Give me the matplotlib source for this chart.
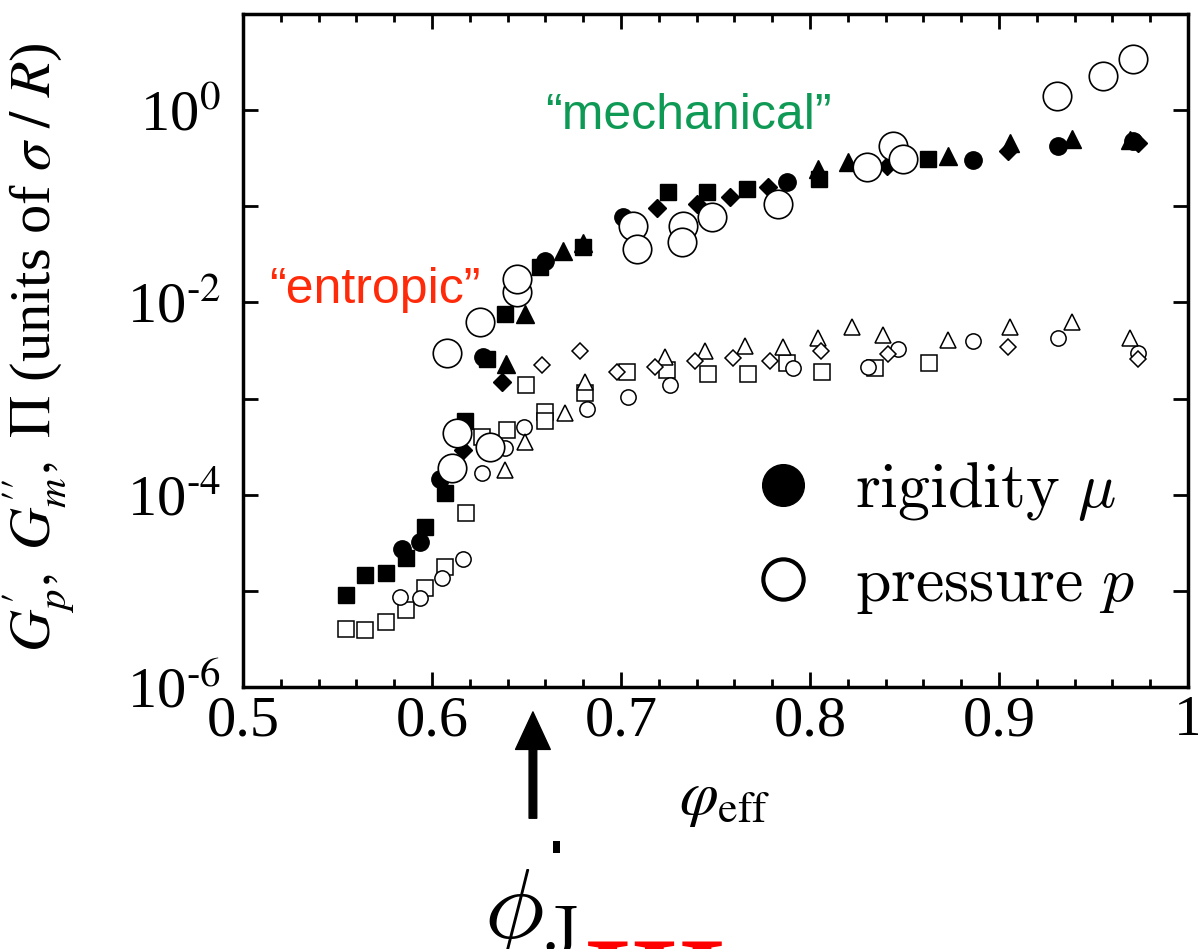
import numpy as np
import matplotlib
matplotlib.use('Agg')
import matplotlib.pyplot as plt
from matplotlib.lines import Line2D
from matplotlib.patches import Rectangle
from matplotlib.font_manager import FontProperties
from matplotlib.ticker import FixedLocator, MultipleLocator, FuncFormatter, NullLocator

plt.rcParams['font.family'] = ['Liberation Serif', 'DejaVu Serif']
plt.rcParams['mathtext.fontset'] = 'stix'

# G'_p (filled symbols)
gp_sq_x = [0.5545, 0.5645, 0.5757, 0.5862, 0.5963, 0.6069, 0.6175, 0.6291, 0.6386, 0.6571, 0.6799, 0.7249, 0.7455, 0.7667, 0.8048, 0.8624]
gp_sq_y = [9.1e-6, 1.47e-5, 1.55e-5, 2.2e-5, 4.6e-5, 1.05e-4, 5.8e-4, 2.6e-3, 7.5e-3, 0.0232, 0.038, 0.14, 0.14, 0.15, 0.191, 0.309]
gp_ci_x = [0.584, 0.5937, 0.6042, 0.627, 0.6598, 0.701, 0.7878, 0.8862, 0.9312, 0.9709]
gp_ci_y = [2.7e-5, 3.2e-5, 1.44e-4, 2.7e-3, 0.0267, 0.077, 0.177, 0.30, 0.42, 0.475]
gp_tr_x = [0.6392, 0.6492, 0.6693, 0.6799, 0.8042, 0.8201, 0.873, 0.9058, 0.9386, 0.9693]
gp_tr_y = [2.3e-3, 7.5e-3, 0.034, 0.042, 0.243, 0.287, 0.33, 0.46, 0.50, 0.49]
gp_di_x = [0.6164, 0.637, 0.719, 0.740, 0.7577, 0.7778, 0.8407, 0.9048, 0.9735]
gp_di_y = [2.95e-4, 1.5e-3, 0.095, 0.105, 0.124, 0.158, 0.26, 0.374, 0.45]

# G''_m (small open symbols)
gm_sq_x = [0.5545, 0.5645, 0.5757, 0.5862, 0.5963, 0.6069, 0.618, 0.6265, 0.6397, 0.6497, 0.6598, 0.6598, 0.681, 0.7032, 0.7243, 0.746, 0.7672, 0.7878, 0.8063, 0.8344, 0.863]
gm_sq_y = [4.0e-6, 3.9e-6, 4.7e-6, 6.3e-6, 1.07e-5, 1.78e-5, 6.5e-5, 4.0e-4, 4.75e-4, 1.4e-3, 7.3e-4, 5.9e-4, 1.15e-3, 1.87e-3, 2.0e-3, 1.78e-3, 1.78e-3, 2.37e-3, 1.87e-3, 2.1e-3, 2.37e-3]
gm_ci_x = [0.583, 0.5937, 0.6053, 0.6164, 0.6265, 0.6386, 0.6487, 0.682, 0.7037, 0.7259, 0.791, 0.8307, 0.8466, 0.8862, 0.9312, 0.9735]
gm_ci_y = [8.7e-6, 8.5e-6, 1.37e-5, 2.15e-5, 1.7e-4, 3.09e-4, 5.1e-4, 7.7e-4, 1.05e-3, 1.4e-3, 2.1e-3, 2.15e-3, 3.24e-3, 3.93e-3, 4.3e-3, 3.0e-3]
gm_tr_x = [0.6386, 0.6492, 0.6704, 0.681, 0.7233, 0.7444, 0.7656, 0.7857, 0.8042, 0.8222, 0.8386, 0.873, 0.9058, 0.9386, 0.9693]
gm_tr_y = [1.82e-4, 3.5e-4, 7.1e-4, 1.47e-3, 2.7e-3, 3.1e-3, 3.5e-3, 3.4e-3, 4.3e-3, 5.5e-3, 4.6e-3, 4.1e-3, 5.5e-3, 6.2e-3, 4.3e-3]
gm_di_x = [0.6582, 0.6783, 0.6979, 0.718, 0.7392, 0.7593, 0.7788, 0.8058, 0.8413, 0.9048, 0.9735]
gm_di_y = [2.26e-3, 3.1e-3, 1.9e-3, 2.15e-3, 2.43e-3, 2.67e-3, 2.43e-3, 3.09e-3, 2.88e-3, 3.48e-3, 2.55e-3]

# osmotic pressure Pi (large open circles)
pi_x = [0.6079, 0.6106, 0.6132, 0.6254, 0.6307, 0.645, 0.645, 0.7063, 0.7085, 0.7328, 0.7323, 0.7481, 0.7831, 0.8302, 0.8439, 0.8492, 0.9307, 0.955, 0.9709]
pi_y = [3.0e-3, 1.9e-4, 4.4e-4, 6.2e-3, 3.16e-4, 0.0127, 0.0174, 0.062, 0.036, 0.062, 0.043, 0.077, 0.105, 0.255, 0.42, 0.31, 1.40, 2.26, 3.4]

x_ticks = [0.5, 0.6, 0.7, 0.8, 0.9, 1.0]
x_ticklabels = ['0.5', '0.6', '0.7', '0.8', '0.9', '1']
y_decades = [-6, -5, -4, -3, -2, -1, 0, 1]

W, H = 1198, 949
fig = plt.figure(figsize=(W / 100, H / 100), dpi=100)
ax = fig.add_axes([243 / W, (H - 687) / H, 945 / W, 673 / H])

filled = dict(color='black', linestyle='none', zorder=3)
ax.plot(gp_sq_x, gp_sq_y, marker='s', markersize=12, **filled)
ax.plot(gp_ci_x, gp_ci_y, marker='o', markersize=12.5, **filled)
ax.plot(gp_tr_x, gp_tr_y, marker='^', markersize=12.5, **filled)
ax.plot(gp_di_x, gp_di_y, marker='D', markersize=9, **filled)

opn = dict(markerfacecolor='white', markeredgecolor='black', markeredgewidth=1.1, linestyle='none', zorder=4)
ax.plot(gm_sq_x, gm_sq_y, marker='s', markersize=11.5, **opn)
ax.plot(gm_ci_x, gm_ci_y, marker='o', markersize=11, **opn)
ax.plot(gm_tr_x, gm_tr_y, marker='^', markersize=11.5, **opn)
ax.plot(gm_di_x, gm_di_y, marker='D', markersize=8, **opn)
ax.plot(pi_x, pi_y, marker='o', markersize=20.5, markerfacecolor='white', markeredgecolor='black',
        markeredgewidth=1.2, linestyle='none', zorder=5)

ax.set_yscale('log')
ax.set_xlim(0.5, 1.0)
ax.set_ylim(1e-6, 1e1)

ax.xaxis.set_major_locator(FixedLocator(x_ticks))
ax.set_xticklabels(x_ticklabels)
ax.xaxis.set_minor_locator(MultipleLocator(0.02))
ax.yaxis.set_major_locator(FixedLocator([10.0 ** d for d in y_decades]))
ax.yaxis.set_minor_locator(NullLocator())


def ylab(v, pos):
    d = int(round(np.log10(v)))
    if d % 2 or d > 0:
        return ''
    return r'10$^{\text{%s}}$' % str(d)


ax.yaxis.set_major_formatter(FuncFormatter(ylab))

for s in ax.spines.values():
    s.set_linewidth(2.5)
ax.tick_params(which='both', direction='in', top=True, right=True, width=2)
ax.tick_params(which='major', length=11)
ax.tick_params(which='minor', length=6)
ax.tick_params(axis='x', labelsize=42, pad=6)
ax.tick_params(axis='y', labelsize=42, pad=16)

ax.set_ylabel(r"$G^{\prime}_{p},\ G^{\prime\prime}_{m},\ \Pi$ (units of $\sigma\ /\ R$)", fontsize=42)
ax.yaxis.set_label_coords(-0.177, 0.505)
ax.set_xlabel(r'$\varphi_{\mathrm{eff}}$', fontsize=45)
ax.xaxis.set_label_coords(0.51, -0.125)

ax.text(0.1397, 0.59, '\u201centropic\u201d', transform=ax.transAxes, color='#ff2a0a',
        fontsize=36, family='Liberation Sans', ha='center', va='center')
ax.text(0.471, 0.848, '\u201cmechanical\u201d', transform=ax.transAxes, color='#0e9a55',
        fontsize=36, family='Liberation Sans', ha='center', va='center')

handles = [Line2D([], [], marker='o', color='black', linestyle='none', markersize=30),
           Line2D([], [], marker='o', markerfacecolor='white', markeredgecolor='black',
                  markeredgewidth=3, linestyle='none', markersize=29)]
ax.legend(handles, [r'$\mathrm{rigidity}\ \mu$', r'$\mathrm{pressure}\ p$'],
          loc='center left', bbox_to_anchor=(0.5376, 0.2207), frameon=False,
          prop=FontProperties(size=46, math_fontfamily='cm'),
          handlelength=1.0, handletextpad=0.62, labelspacing=0.52, borderpad=0, borderaxespad=0)

# phi_J arrow below the axis
ax.annotate('', xy=(0.6534, -0.037), xytext=(0.6534, -0.195),
            xycoords=('data', 'axes fraction'), textcoords=('data', 'axes fraction'),
            arrowprops=dict(facecolor='black', edgecolor='black', width=5.5, headwidth=25,
                            headlength=27, shrink=0), annotation_clip=False)
fig.patches.append(Rectangle((553 / W, 1 - 853 / H), 7 / W, 12 / H, transform=fig.transFigure,
                             facecolor='black', edgecolor='none'))
fig.text(484 / W, 1 - 938 / H, r'$\phi_{\rm J}$', fontsize=72, math_fontfamily='cm',
         ha='left', va='baseline')
fig.text(584 / W, 1 - 937 / H, 'III', fontsize=88, color='red', weight='bold',
         ha='left', va='top')

fig.savefig('out.png', dpi=100)
